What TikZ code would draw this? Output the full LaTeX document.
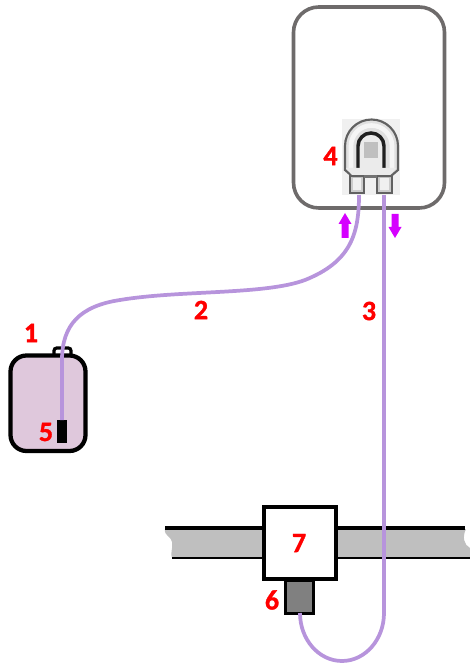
\documentclass[tikz,border=0pt]{standalone}
\usepackage{fontspec}
\setmainfont[BoldFeatures={FakeBold=1.2}]{Carlito}
\usetikzlibrary{calc}
\definecolor{tube}{HTML}{B794DC}
\definecolor{jarfill}{HTML}{DFC8DC}
\definecolor{pipefill}{HTML}{BFBFBF}
\definecolor{sensorfill}{HTML}{808080}
\definecolor{housing}{HTML}{6E6B6B}
\definecolor{flow}{HTML}{D500FF}
\tikzset{
  x=0.75pt,y=-0.75pt,
  lab/.style={text=red,font=\bfseries\fontsize{21}{21}\selectfont,inner sep=0pt},
  tubeline/.style={draw=tube,line width=2.8pt},
  blackbox/.style={draw=black,line width=3pt,inner sep=0pt,minimum width=54pt,minimum height=54pt},
  area/.style={inner sep=0pt,outer sep=0pt},
  flowarrow/.style={fill=flow,draw=none}
}
\begin{document}
\begin{tikzpicture}
\useasboundingbox (0,0) rectangle (470,666);
% housing
\draw[housing,line width=2.7pt,rounded corners=19pt,fill=white] (293.5,7) rectangle (444.5,208);
\coordinate (footL) at (359,195);
\coordinate (footR) at (384,195);
% jar
\draw[black,line width=2.4pt,fill=white,rounded corners=2pt] (54,356) -- (54,348) -- (71,348) -- (71,356);
\draw[black,line width=3.2pt,fill=jarfill,rounded corners=12pt] (10.5,355.5) rectangle (85.5,451);
\node[area,fill=black,minimum width=7.5pt,minimum height=17pt] (sensorFive) at (62,431.5) {};
% pipe
\fill[pipefill] (165,529) .. controls (164,536) and (170,535) .. (172,542) .. controls (173,550) and (170,553) .. (172,558) -- (470,558) -- (470,548) .. controls (464,545) and (462,537) .. (466,529) -- cycle;
\draw[black,line width=2.8pt] (165,528) -- (465,528);
\draw[black,line width=2.2pt] (172,558) -- (470,558);
% probe and fitting
\node[area,draw=black,line width=2.2pt,fill=sensorfill,minimum width=21pt,minimum height=25pt] (probe) at (299.5,597) {};
\node[blackbox,fill=white] (fitting) at (299.5,542.5) {};
% tubes
\draw[tubeline] (footL) .. controls (359,235) and (350,262) .. (305,280)
  .. controls (265,295) and (180,290) .. (120,300)
  .. controls (80,306) and (62,325) .. (62,360) -- (sensorFive.north);
\draw[tubeline] (footR) -- (384,613) arc[start angle=0,end angle=180,x radius=42,y radius=48];
% flow arrows
\fill[flowarrow] (341.5,238) -- (348.5,238) -- (348.5,224) -- (351.5,224) -- (345,213) -- (338.5,224) -- (341.5,224) -- cycle;
\fill[flowarrow] (391.5,214) -- (398.5,214) -- (398.5,227) -- (401.5,227) -- (395,238) -- (388.5,227) -- (391.5,227) -- cycle;
% pump
\node[area,fill=black!6,minimum width=43.5pt,minimum height=57pt] (pump) at (371,157) {};
\draw[black!62,line width=1pt,fill=black!20] (350,172) -- (350,193) -- (364,193) -- (364,176) -- (377,176) -- (377,193) -- (392,193) -- (392,172);
\fill[black!6] (353,178) rectangle (361,190);
\fill[black!6] (380,178) rectangle (389,190);
\draw[black!62,line width=1.6pt,fill=black!12] (364,176) -- (352,176) -- (345,170) -- (345,146) arc[start angle=180,end angle=360,radius=26.5] -- (398,170) -- (391,176) -- (377,176) -- cycle;
\draw[black!4,line width=3.5pt] (351,168) -- (351,146) arc[start angle=180,end angle=360,radius=20.5] -- (392,168);
\draw[black!88,line width=2.6pt,fill=black!8] (358,169) -- (358,146) arc[start angle=180,end angle=360,radius=13] -- (384,169);
\fill[black!25] (364,142) rectangle (378,158);
\fill[black!8] (346,168) -- (396,168) -- (390,175) -- (352,175) -- cycle;
\fill[black!55] (364,175) rectangle (377,178);
% labels
\node[lab] (one) at (31,333) {1};
\node[lab] (two) at (201,310) {2};
\node[lab] (three) at (369,311) {3};
\node[lab] (four) at (330.5,156) {4};
\node[lab] (five) at (46,432) {5};
\node[lab] (six) at (272,600) {6};
\node[lab] (seven) at (299,543) {7};
\end{tikzpicture}
\end{document}
